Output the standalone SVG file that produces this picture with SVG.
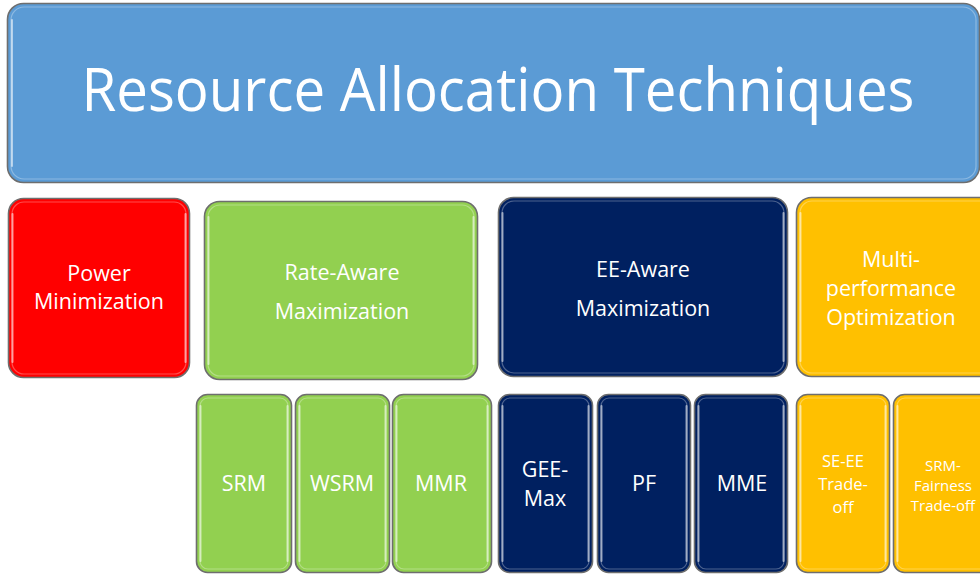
<svg xmlns="http://www.w3.org/2000/svg" width="980" height="577" viewBox="0 0 980 577">
  <style>
    .box { stroke: #6e6e6e; stroke-width: 1.6; }
    .gloss { fill: none; stroke: #ffffff; stroke-opacity: 0.3; stroke-width: 1.2; }
    .edge { fill: none; stroke: #ffffff; stroke-opacity: 0.55; stroke-width: 2; stroke-linecap: round; }
    .blue { fill: #5b9bd5; }
    .red { fill: #ff0000; }
    .green { fill: #92d050; }
    .navy { fill: #002060; }
    .gold { fill: #ffc000; }
    text { fill: #ffffff; font-family: "Open Sans", "Liberation Sans", sans-serif; text-anchor: middle; }
    .t22 { font-size: 21.5px; }
    .t17 { font-size: 16.5px; }
    .t15 { font-size: 15px; }
  </style>

  <rect width="980" height="577" fill="#ffffff"/>

  <g id="root">
    <rect class="box blue" x="7.5" y="3.5" width="972" height="179" rx="16"/>
    <rect class="gloss" x="11" y="7" width="965" height="172" rx="13"/>
    <path class="edge" d="M12 20 V166"/>
    <text x="498" y="111" font-size="60" textLength="833" lengthAdjust="spacingAndGlyphs">Resource Allocation Techniques</text>
  </g>

  <g id="power">
    <rect class="box red" x="8.5" y="198.5" width="181" height="179" rx="15"/>
    <rect class="gloss" x="12" y="202" width="174" height="172" rx="12"/>
    <path class="edge" d="M12.5 214 V362 M185.5 214 V362"/>
    <text class="t22" x="99" y="281">Power</text>
    <text class="t22" x="99" y="309">Minimization</text>
  </g>

  <g id="rate-aware">
    <rect class="box green" x="204.5" y="201.5" width="273" height="178" rx="15"/>
    <rect class="gloss" x="208" y="205" width="266" height="171" rx="12"/>
    <path class="edge" d="M208.5 217 V364 M473.5 217 V364"/>
    <text class="t22" x="342" y="280">Rate-Aware</text>
    <text class="t22" x="342" y="319">Maximization</text>
  </g>

  <g id="ee-aware">
    <rect class="box navy" x="498.5" y="197.5" width="289" height="179" rx="15"/>
    <rect class="gloss" x="502" y="201" width="282" height="172" rx="12"/>
    <path class="edge" d="M502.5 213 V361 M783.5 213 V361"/>
    <text class="t22" x="643" y="277">EE-Aware</text>
    <text class="t22" x="643" y="316">Maximization</text>
  </g>

  <g id="multi-performance">
    <rect class="box gold" x="796.5" y="197.5" width="200" height="179" rx="15"/>
    <rect class="gloss" x="800" y="201" width="193" height="172" rx="12"/>
    <path class="edge" d="M800.5 213 V361"/>
    <text class="t22" x="891" y="267">Multi-</text>
    <text class="t22" x="891" y="296">performance</text>
    <text class="t22" x="891" y="325">Optimization</text>
  </g>

  <g id="srm">
    <rect class="box green" x="196.5" y="394.5" width="95" height="178" rx="11"/>
    <rect class="gloss" x="200" y="398" width="88" height="171" rx="8"/>
    <path class="edge" d="M200.5 406 V561 M287.5 406 V561"/>
    <text class="t22" x="244" y="491">SRM</text>
  </g>

  <g id="wsrm">
    <rect class="box green" x="295.5" y="394.5" width="94" height="178" rx="11"/>
    <rect class="gloss" x="299" y="398" width="87" height="171" rx="8"/>
    <path class="edge" d="M299.5 406 V561 M385.5 406 V561"/>
    <text class="t22" x="342" y="491">WSRM</text>
  </g>

  <g id="mmr">
    <rect class="box green" x="392.5" y="394.5" width="99" height="178" rx="11"/>
    <rect class="gloss" x="396" y="398" width="92" height="171" rx="8"/>
    <path class="edge" d="M396.5 406 V561 M487.5 406 V561"/>
    <text class="t22" x="441" y="491">MMR</text>
  </g>

  <g id="gee-max">
    <rect class="box navy" x="498.5" y="394.5" width="94" height="178" rx="11"/>
    <rect class="gloss" x="502" y="398" width="87" height="171" rx="8"/>
    <path class="edge" d="M502.5 406 V561 M588.5 406 V561"/>
    <text class="t22" x="545" y="477">GEE-</text>
    <text class="t22" x="545" y="506">Max</text>
  </g>

  <g id="pf">
    <rect class="box navy" x="597.5" y="394.5" width="93" height="178" rx="11"/>
    <rect class="gloss" x="601" y="398" width="86" height="171" rx="8"/>
    <path class="edge" d="M601.5 406 V561 M686.5 406 V561"/>
    <text class="t22" x="644" y="491">PF</text>
  </g>

  <g id="mme">
    <rect class="box navy" x="694.5" y="394.5" width="93" height="178" rx="11"/>
    <rect class="gloss" x="698" y="398" width="86" height="171" rx="8"/>
    <path class="edge" d="M698.5 406 V561 M783.5 406 V561"/>
    <text class="t22" x="742" y="491">MME</text>
  </g>

  <g id="se-ee">
    <rect class="box gold" x="796.5" y="394.5" width="93" height="178" rx="11"/>
    <rect class="gloss" x="800" y="398" width="86" height="171" rx="8"/>
    <path class="edge" d="M800.5 406 V561 M885.5 406 V561"/>
    <text class="t17" x="843" y="467">SE-EE</text>
    <text class="t17" x="843" y="490">Trade-</text>
    <text class="t17" x="843" y="513">off</text>
  </g>

  <g id="srm-fairness">
    <rect class="box gold" x="893.5" y="394.5" width="100" height="178" rx="11"/>
    <rect class="gloss" x="897" y="398" width="93" height="171" rx="8"/>
    <path class="edge" d="M897.5 406 V561"/>
    <text class="t15" x="943" y="471">SRM-</text>
    <text class="t15" x="943" y="491">Fairness</text>
    <text class="t15" x="943" y="511">Trade-off</text>
  </g>

  <g id="connectors"></g>
</svg>
